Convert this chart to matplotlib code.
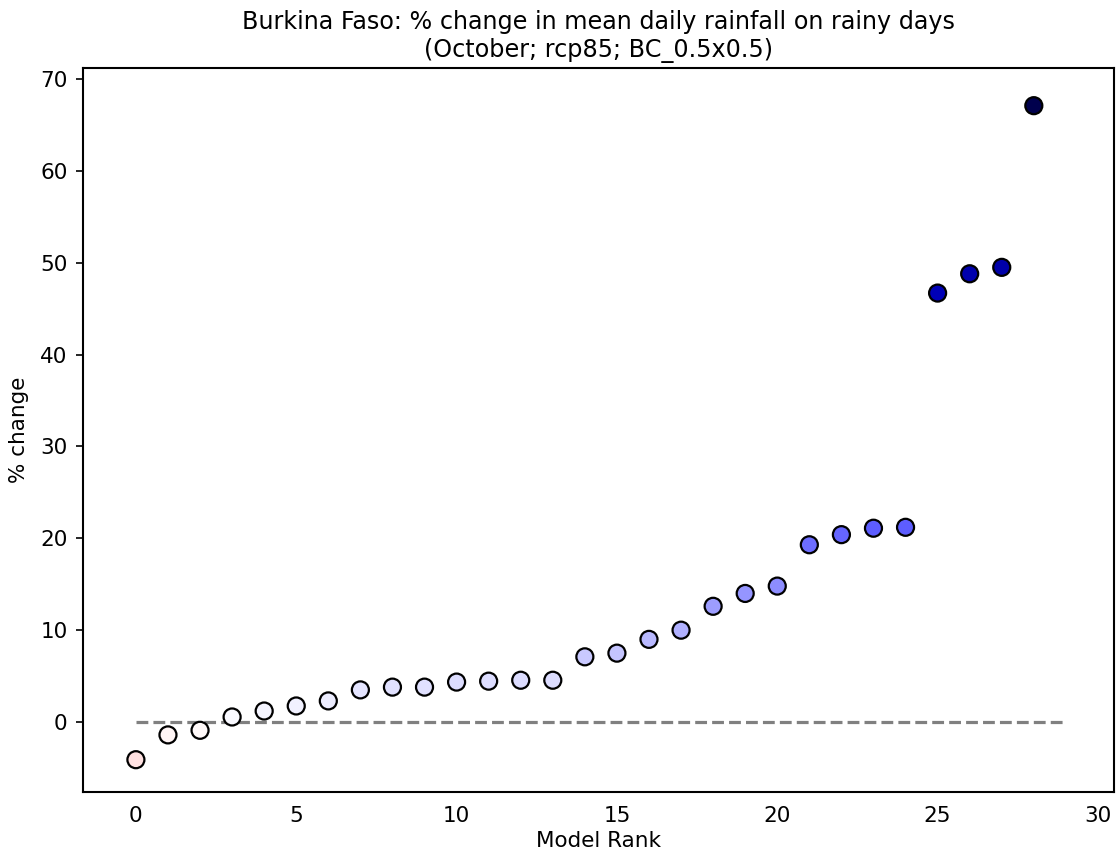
import matplotlib
matplotlib.use('Agg')
import matplotlib.pyplot as plt
import numpy as np

# % change per model, sorted by rank
model_rank = list(range(29))
pct_change = [-4.1, -1.4, -0.9, 0.55, 1.2, 1.75, 2.3, 3.5, 3.8, 3.8,
              4.35, 4.45, 4.55, 4.55, 7.1, 7.5, 9.0, 10.0, 12.6, 14.0,
              14.8, 19.3, 20.4, 21.1, 21.2, 46.7, 48.8, 49.5, 67.1]

country = 'Burkina Faso'
month = 'October'
scenario = 'rcp85'
dataset = 'BC_0.5x0.5'

fig = plt.figure(figsize=(11.17, 8.61), dpi=100)
ax = fig.add_axes([0.0743, 0.0801, 0.9230, 0.8409])

vmax = np.max(np.abs(pct_change))
ax.scatter(model_rank, pct_change, c=pct_change, cmap='seismic_r',
           vmin=-vmax, vmax=vmax, s=150, edgecolors='black',
           linewidths=1.6, zorder=3)
ax.plot([0, 28.9], [0, 0], color='grey', linestyle='--', linewidth=2.3,
        zorder=2)

ax.set_xlim(-1.65, 30.5)
ax.set_ylim(-7.62, 71.2)
ax.set_xticks(range(0, 31, 5))
ax.set_yticks(range(0, 71, 10))
ax.tick_params(labelsize=15.5, top=False, right=False)
ax.tick_params(axis='x', length=0, pad=10)
ax.tick_params(axis='y', direction='out', length=5, width=1.2, pad=6)
for sp in ax.spines.values():
    sp.set_linewidth(1.5)

ax.set_xlabel('Model Rank', fontsize=15.5, labelpad=4)
ax.set_ylabel('% change', fontsize=15.5, labelpad=8)
ax.set_title(f'{country}: % change in mean daily rainfall on rainy days\n'
             f'({month}; {scenario}; {dataset})', fontsize=17.2, pad=8)

fig.savefig('out.png', dpi=100)
